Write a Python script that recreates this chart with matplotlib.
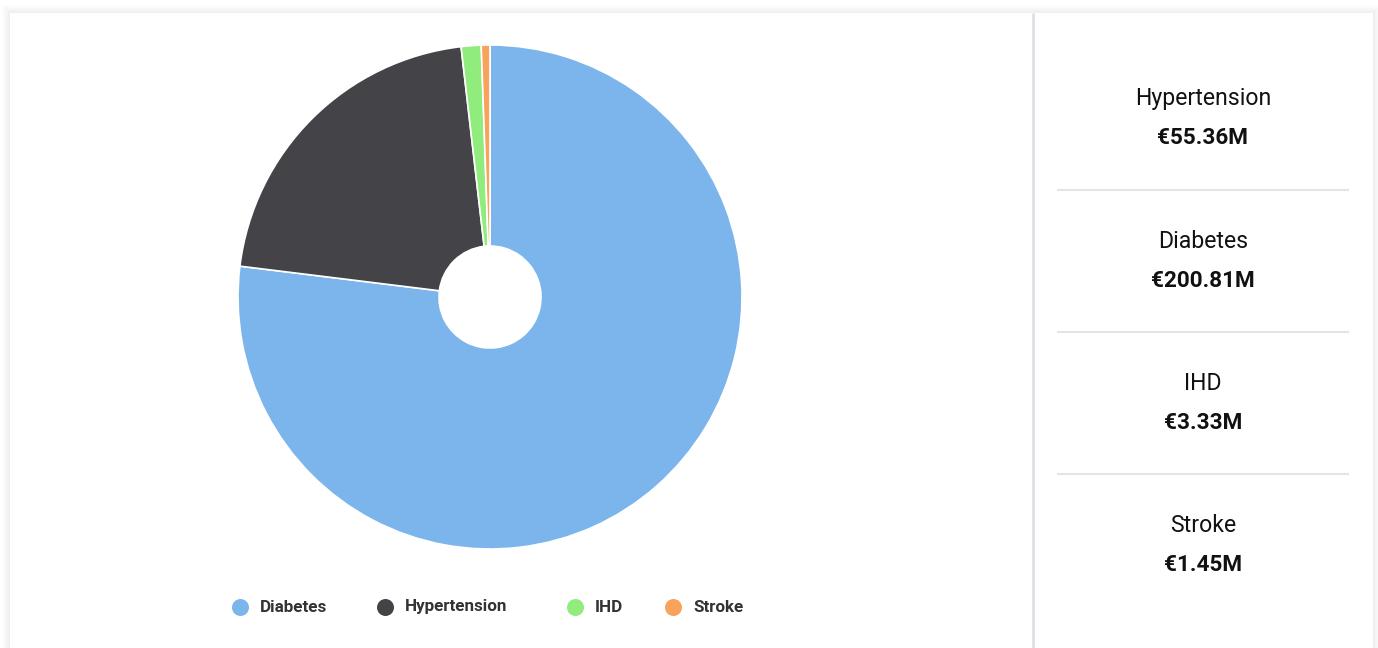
import matplotlib
matplotlib.use("Agg")
import matplotlib.pyplot as plt
from matplotlib.patches import Rectangle
from matplotlib.lines import Line2D

# ---- data ----
categories = ["Diabetes", "Hypertension", "IHD", "Stroke"]
values = [200.81, 55.36, 3.33, 1.45]  # € millions
colors = ["#7cb5ec", "#434348", "#90ed7d", "#f7a35c"]
panel_order = ["Hypertension", "Diabetes", "IHD", "Stroke"]

W, H = 1378, 648
DPI = 100
fig = plt.figure(figsize=(W / DPI, H / DPI), dpi=DPI)
fig.patch.set_facecolor("white")

FONT = ["Roboto", "DejaVu Sans"]

def px2fig(x, y):
    return x / W, 1 - y / H

def pt(px):
    return px * 72 / DPI

# ---- background card with soft shadow ----
bg = fig.add_axes([0, 0, 1, 1])
bg.set_xlim(0, W)
bg.set_ylim(H, 0)
bg.axis("off")
bg.set_zorder(-10)
for i in range(8):
    d = 8 - i
    bg.add_patch(Rectangle((10 - d, 13 - d), 1363 + 2 * d, 700, facecolor="#000000",
                           alpha=0.006, edgecolor="none"))
bg.add_patch(Rectangle((10, 13), 1363, 700, facecolor="white", edgecolor="none"))
# vertical divider
bg.plot([1032.5, 1032.5], [13, H], color="#dde1e6", lw=2, solid_capstyle="butt")
# horizontal separators in the right panel
for y in [190, 332, 474]:
    bg.plot([1057, 1349], [y, y], color="#e1e4e8", lw=1.5, solid_capstyle="butt")

# ---- pie / donut ----
cx, cy, r = 490, 297, 252
left, top = px2fig(cx - r, cy - r)
ax = fig.add_axes([left, 1 - (cy + r) / H, 2 * r / W, 2 * r / H])
ax.pie(values, colors=colors, startangle=90, counterclock=False, radius=1.0,
       wedgeprops=dict(width=1 - 51 / 252, edgecolor="white", linewidth=1.2))
ax.set_xlim(-1.0, 1.0)
ax.set_ylim(-1.0, 1.0)
ax.set_aspect("equal")
ax.axis("off")

# ---- legend ----
legend_marker_x = [240, 385, 575, 673]
legend_y = 607
for name, col, mx in zip(categories, colors, legend_marker_x):
    fx, fy = px2fig(mx, legend_y)
    fig.add_artist(Line2D([fx], [fy], marker="o", markersize=pt(17), color=col,
                          markeredgewidth=0, transform=fig.transFigure))
    tx, _ = px2fig(mx + 20, legend_y)
    fig.text(tx, fy, name, ha="left", va="center", fontsize=pt(17),
             fontweight="bold", color="#333333", family=FONT)

# ---- right panel ----
lookup = dict(zip(categories, values))
label_y = [98, 241, 383, 525]
panel_x = 1203
for name, ly in zip(panel_order, label_y):
    fx, fy = px2fig(panel_x, ly)
    fig.text(fx, fy, name, ha="center", va="center", fontsize=pt(23),
             color="#111111", family=FONT)
    _, fy2 = px2fig(panel_x, ly + 40)
    fig.text(fx, fy2, f"€{lookup[name]:.2f}M", ha="center", va="center",
             fontsize=pt(22.5), fontweight="bold", color="#111111", family=FONT)

fig.savefig("out.png", dpi=DPI, facecolor="white")
